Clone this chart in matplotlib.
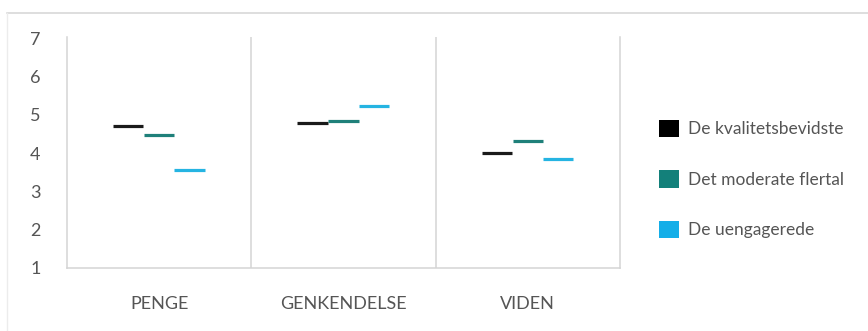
import matplotlib
matplotlib.use("Agg")
from matplotlib import pyplot as plt
from matplotlib.lines import Line2D
from matplotlib.patches import Patch
import numpy as np

plt.rcParams['font.family'] = ['Lato', 'DejaVu Sans']

categories = ['PENGE', 'GENKENDELSE', 'VIDEN']
groups = ['De kvalitetsbevidste', 'Det moderate flertal', 'De uengagerede']
colors = ['#1a1a1a', '#1f807a', '#25b4e2']
legend_colors = ['#000000', '#13807a', '#14aee8']

# mean score per category for each group
kvalitet = [4.71, 4.79, 4.00]
moderat = [4.47, 4.84, 4.31]
uengageret = [3.55, 5.22, 3.84]
series = [kvalitet, moderat, uengageret]

grid_col = '#d4d4d4'
text_col = '#555555'

fig = plt.figure(figsize=(8.68, 3.31), dpi=100)
W, H = 868, 331
ax = fig.add_axes([67 / W, (H - 268) / H, (620 - 67) / W, (268 - 37) / H])

x = np.arange(len(categories))
offsets = [-0.168, 0.0, 0.165]
half = 0.082
for vals, off, c in zip(series, offsets, colors):
    ax.hlines(vals, x + off - half, x + off + half, colors=c, lw=2.3)

ax.set_xlim(-0.5, 2.5)
ax.set_ylim(1, 7.03)
ax.set_yticks(range(1, 8))
ax.set_xticks(x)
ax.set_xticklabels(categories)
ax.tick_params(length=0, labelcolor=text_col, labelsize=13)
ax.tick_params(axis='y', pad=19)
ax.tick_params(axis='x', pad=20)

for s in ['left', 'bottom', 'right']:
    ax.spines[s].set_color(grid_col)
    ax.spines[s].set_linewidth(1.1)
ax.spines['top'].set_visible(False)
for xv in [0.5, 1.5]:
    ax.axvline(xv, color=grid_col, lw=1.1)

handles = [Patch(facecolor=c, edgecolor='none') for c in legend_colors]
fig.legend(handles, groups, loc='upper left', bbox_to_anchor=(652 / W, 1 - 113 / H),
           frameon=False, fontsize=12.5, labelcolor=text_col,
           handlelength=1.15, handleheight=1.15, handletextpad=0.55,
           labelspacing=1.9, borderaxespad=0)

# light outer frame along the top and left edge
fig.add_artist(Line2D([7 / W, 1], [1 - 12.5 / H] * 2, transform=fig.transFigure,
                      color=grid_col, lw=1.1))
fig.add_artist(Line2D([7 / W] * 2, [0, 1 - 12.5 / H], transform=fig.transFigure,
                      color='#ececec', lw=1.0))

fig.savefig('out.png', dpi=100)
